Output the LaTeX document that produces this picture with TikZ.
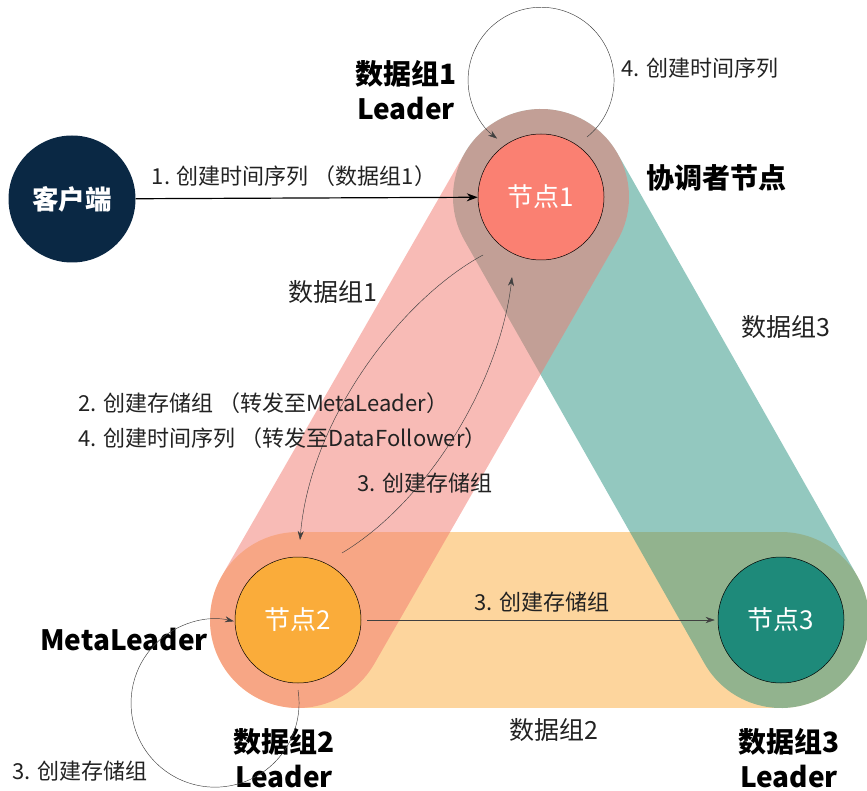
\documentclass[tikz,border=0pt]{standalone}
\usepackage{fontspec}
\setmainfont{Noto Sans CJK SC}
\usetikzlibrary{arrows.meta}
\definecolor{pinkband}{RGB}{242,120,110}
\definecolor{tealband}{RGB}{40,145,128}
\definecolor{orangeband}{RGB}{252,172,60}
\definecolor{nodeA}{RGB}{250,128,114}
\definecolor{nodeB}{RGB}{250,172,58}
\definecolor{nodeC}{RGB}{30,138,122}
\definecolor{clientc}{RGB}{10,40,68}
\definecolor{txt}{RGB}{34,34,34}
\tikzset{
  band/.style={line width=176pt, line cap=round, draw opacity=0.5},
  srv/.style={circle, minimum size=126pt, inner sep=0pt, draw=black, line width=0.5pt, text=white, font=\fontsize{26}{30}\selectfont},
  cli/.style={circle, minimum size=127pt, inner sep=0pt, fill=clientc, text=white, font=\fontsize{26.5}{30}\selectfont\bfseries},
  lbl/.style={text=txt, font=\fontsize{22}{26}\selectfont, inner sep=0pt},
  glbl/.style={text=txt, font=\fontsize{25}{29}\selectfont, inner sep=0pt},
  bold/.style={text=black, font=\fontsize{28}{35}\selectfont\bfseries, align=center, inner sep=0pt},
  thin/.style={draw=black!75, line width=0.45pt, -{Stealth[length=9pt,width=6pt]}},
  thick/.style={draw=black, line width=1.2pt, -{Stealth[length=11pt,width=8pt]}}
}
\begin{document}
\begin{tikzpicture}[x=1pt,y=-1pt]
\useasboundingbox (0,0) rectangle (867,791);
\coordinate (c1) at (541,197);
\coordinate (c2) at (298,620);
\coordinate (c3) at (781,620);
% bands
\draw[band, draw=orangeband] (c2) -- (c3);
\draw[band, draw=tealband] (c1) -- (c3);
\draw[band, draw=pinkband] (c1) -- (c2);
% nodes
\node[cli] (cl) at (72,199) {客户端};
\node[srv, fill=nodeA] (n1) at (c1) {节点1};
\node[srv, fill=nodeB] (n2) at (c2) {节点2};
\node[srv, fill=nodeC] (n3) at (c3) {节点3};
% labels
\node[bold] (l1) at (406,90) {数据组1\\Leader};
\node[bold] (lc) at (716,178) {协调者节点};
\node[bold] (ml) at (124,640) {MetaLeader};
\node[bold] (l2) at (284,758) {数据组2\\Leader};
\node[bold] (l3) at (789,758) {数据组3\\Leader};
\node[glbl] (g1) at (333,292) {数据组1};
\node[glbl] (g3) at (786,327) {数据组3};
\node[glbl] (g2) at (554,730) {数据组2};
% arrows
\draw[thick] (cl) -- (n1);
\node[lbl] (t1) at (294,176) {1. 创建时间序列 （数据组1）};
\coordinate (lp1s) at (587,137);
\draw[thin] (lp1s) arc[start angle=-51, end angle=233, radius=73pt];
\node[lbl, anchor=west] (t4) at (621,68) {4. 创建时间序列};
\coordinate (a1) at (483,255);
\coordinate (a2) at (300,540);
\draw[thin] (a1) .. controls (400,300) and (310,420) .. (a2);
\coordinate (b1) at (342,553);
\coordinate (b2) at (512,277);
\draw[thin] (b1) .. controls (430,500) and (500,380) .. (b2);
\node[lbl, anchor=west] (t2) at (78,403) {2. 创建存储组 （转发至MetaLeader）};
\node[lbl, anchor=west] (t2b) at (78,438) {4. 创建时间序列 （转发至DataFollower）};
\node[lbl] (t3) at (425,483) {3. 创建存储组};
\draw[thin, shorten <=6pt, shorten >=3pt] (n2) -- (n3);
\node[lbl] (t5) at (542,602) {3. 创建存储组};
\coordinate (lp2s) at (298,690);
\draw[thin] (lp2s) arc[start angle=9, end angle=-283, radius=84pt];
\node[lbl] (t6) at (80,771) {3. 创建存储组};
\end{tikzpicture}
\end{document}
